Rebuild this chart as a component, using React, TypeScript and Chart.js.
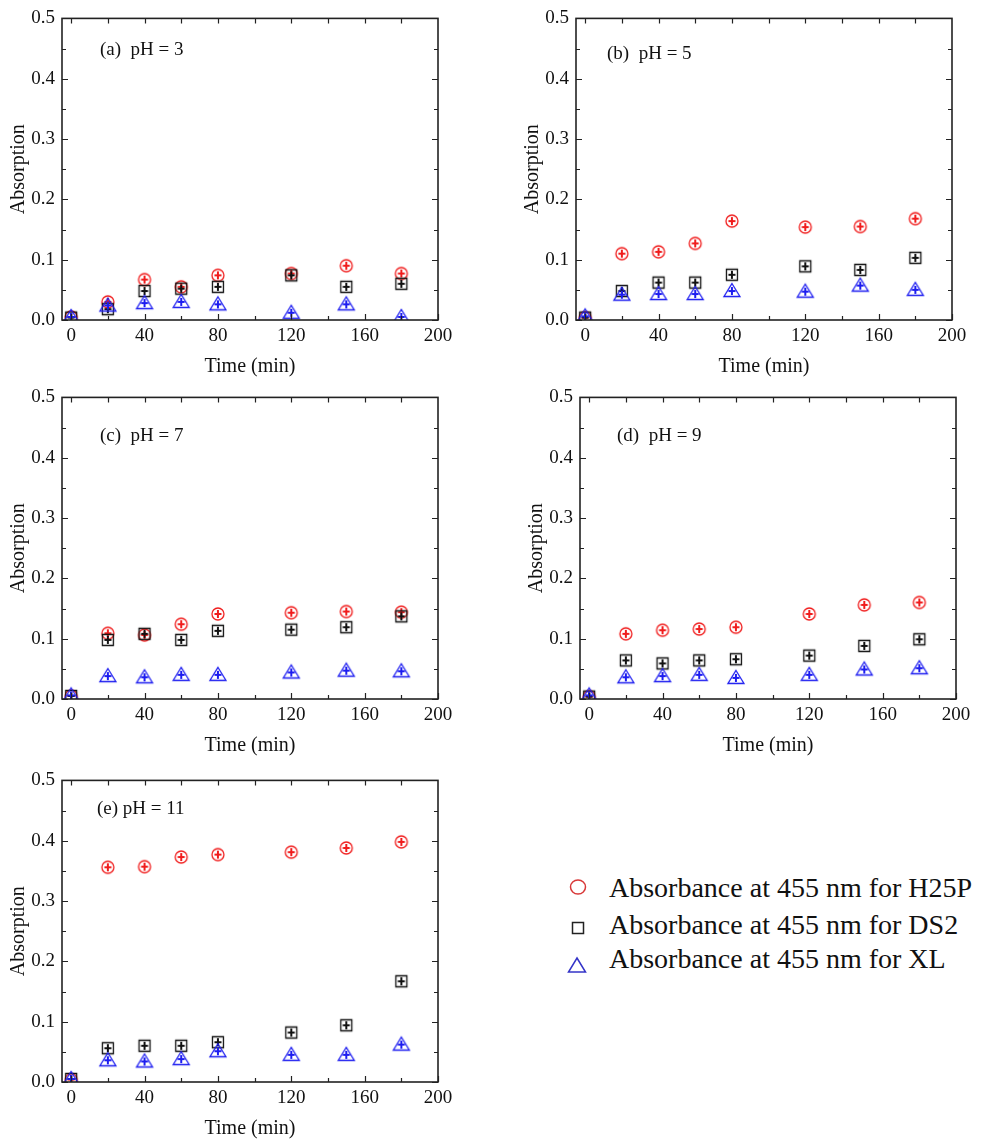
import React, { useEffect, useRef } from "react";
import { Chart, registerables } from "chart.js";
Chart.register(...registerables);

// ---------- data ----------
const times = [0, 20, 40, 60, 80, 120, 150, 180];
const xTickValues = [0, 40, 80, 120, 160, 200];
const xMinorTicks = [20, 60, 100, 140, 180];
const xTopTicks = [0, 20, 40, 60, 80, 100, 120, 140, 160, 180];
const yTickValues = [0, 0.1, 0.2, 0.3, 0.4, 0.5];
const yMinorTicks = [0.05, 0.15, 0.25, 0.35, 0.45];
const seriesNames = [
  "Absorbance at 455 nm for H25P",
  "Absorbance at 455 nm for DS2",
  "Absorbance at 455 nm for XL",
];
const panelLabels = ["(a)  pH = 3", "(b)  pH = 5", "(c)  pH = 7", "(d)  pH = 9", "(e) pH = 11"];

const h25pPH3 = [0.005, 0.030, 0.067, 0.055, 0.074, 0.077, 0.090, 0.077];
const ds2PH3 = [0.004, 0.018, 0.048, 0.052, 0.055, 0.074, 0.055, 0.060];
const xlPH3 = [0.005, 0.024, 0.028, 0.030, 0.026, 0.012, 0.026, 0.005];

const h25pPH5 = [0.004, 0.110, 0.113, 0.127, 0.164, 0.154, 0.155, 0.168];
const ds2PH5 = [0.004, 0.048, 0.062, 0.062, 0.075, 0.089, 0.083, 0.103];
const xlPH5 = [0.006, 0.042, 0.043, 0.043, 0.048, 0.047, 0.057, 0.050];

const h25pPH7 = [0.005, 0.109, 0.106, 0.124, 0.141, 0.143, 0.145, 0.144];
const ds2PH7 = [0.005, 0.098, 0.108, 0.098, 0.113, 0.115, 0.119, 0.137];
const xlPH7 = [0.006, 0.038, 0.036, 0.040, 0.040, 0.044, 0.047, 0.046];

const h25pPH9 = [0.004, 0.108, 0.114, 0.116, 0.119, 0.141, 0.156, 0.160];
const ds2PH9 = [0.004, 0.064, 0.059, 0.064, 0.066, 0.072, 0.088, 0.099];
const xlPH9 = [0.006, 0.036, 0.038, 0.040, 0.035, 0.040, 0.049, 0.051];

const h25pPH11 = [0.004, 0.356, 0.357, 0.373, 0.377, 0.381, 0.388, 0.398];
const ds2PH11 = [0.005, 0.056, 0.060, 0.060, 0.066, 0.082, 0.094, 0.167];
const xlPH11 = [0.005, 0.036, 0.034, 0.038, 0.051, 0.045, 0.045, 0.062];

// ---------- styles / layout ----------
const FONT = "'Liberation Serif', 'Times New Roman', serif";
const RED = "#f01c1c";
const BLACK = "#111111";
const BLUE = "#1c1cf0";

const panels = [
  { label: panelLabels[0], h: h25pPH3, d: ds2PH3, x: xlPH3, areaLeft: 62, areaTop: 17, dx: 38, dy: 32 },
  { label: panelLabels[1], h: h25pPH5, d: ds2PH5, x: xlPH5, areaLeft: 576, areaTop: 17, dx: 31, dy: 36 },
  { label: panelLabels[2], h: h25pPH7, d: ds2PH7, x: xlPH7, areaLeft: 62, areaTop: 396, dx: 38, dy: 39 },
  { label: panelLabels[3], h: h25pPH9, d: ds2PH9, x: xlPH9, areaLeft: 580, areaTop: 396, dx: 37, dy: 39 },
  { label: panelLabels[4], h: h25pPH11, d: ds2PH11, x: xlPH11, areaLeft: 62, areaTop: 779, dx: 35, dy: 29 },
];

const CANVAS_W = 470;
const CANVAS_H = 385;

function makeMarker(kind: "circle" | "square" | "triangle", color: string): HTMLCanvasElement {
  const c = document.createElement("canvas");
  const size = 20;
  c.width = size;
  c.height = size;
  const g = c.getContext("2d")!;
  const cx = size / 2;
  const cy = size / 2;
  g.strokeStyle = color;
  g.lineWidth = 1.3;
  g.beginPath();
  if (kind === "circle") {
    g.arc(cx, cy, 6, 0, Math.PI * 2);
  } else if (kind === "square") {
    g.rect(cx - 5.5, cy - 5.5, 11, 11);
  } else {
    g.moveTo(cx, cy - 7.5);
    g.lineTo(cx + 8, cy + 5.5);
    g.lineTo(cx - 8, cy + 5.5);
    g.closePath();
  }
  g.stroke();
  // error-bar cross
  g.lineWidth = 2;
  g.beginPath();
  g.moveTo(cx - 3.5, cy);
  g.lineTo(cx + 3.5, cy);
  g.moveTo(cx, cy - 4);
  g.lineTo(cx, cy + 4);
  g.stroke();
  return c;
}

const frameTicks = {
  id: "frameTicks",
  afterDraw(chart: any) {
    const { ctx, chartArea: a, scales } = chart;
    const xs = scales.x;
    const ys = scales.y;
    ctx.save();
    ctx.strokeStyle = "#222";
    ctx.lineWidth = 1.2;
    ctx.beginPath();
    xTickValues.forEach((v) => {
      const px = Math.round(xs.getPixelForValue(v)) + 0.5;
      ctx.moveTo(px, a.bottom);
      ctx.lineTo(px, a.bottom - 6);
    });
    xMinorTicks.forEach((v) => {
      const px = Math.round(xs.getPixelForValue(v)) + 0.5;
      ctx.moveTo(px, a.bottom);
      ctx.lineTo(px, a.bottom - 4);
    });
    xTopTicks.forEach((v) => {
      const px = Math.round(xs.getPixelForValue(v)) + 0.5;
      ctx.moveTo(px, a.top);
      ctx.lineTo(px, a.top + 5);
    });
    yTickValues.forEach((v) => {
      const py = Math.round(ys.getPixelForValue(v)) + 0.5;
      ctx.moveTo(a.left, py);
      ctx.lineTo(a.left + 6, py);
      ctx.moveTo(a.right, py);
      ctx.lineTo(a.right - 6, py);
    });
    yMinorTicks.forEach((v) => {
      const py = Math.round(ys.getPixelForValue(v)) + 0.5;
      ctx.moveTo(a.left, py);
      ctx.lineTo(a.left + 4, py);
      ctx.moveTo(a.right, py);
      ctx.lineTo(a.right - 4, py);
    });
    ctx.stroke();
    ctx.lineWidth = 1.6;
    ctx.strokeStyle = "#222";
    ctx.strokeRect(a.left, a.top, a.right - a.left, a.bottom - a.top);
    const opts = chart.options.plugins.panelLabel;
    if (opts && opts.text) {
      ctx.fillStyle = "#111";
      ctx.font = `19px ${FONT}`;
      ctx.textAlign = "left";
      ctx.textBaseline = "middle";
      ctx.fillText(opts.text, a.left + opts.dx, a.top + opts.dy);
    }
    ctx.restore();
  },
};

function Panel(props: { p: (typeof panels)[number] }) {
  const ref = useRef<HTMLCanvasElement | null>(null);
  const { p } = props;
  useEffect(() => {
    if (!ref.current) return;
    const circle = makeMarker("circle", RED);
    const square = makeMarker("square", BLACK);
    const tri = makeMarker("triangle", BLUE);
    const series = [
      { name: seriesNames[0], vals: p.h, style: circle, color: RED, order: 2 },
      { name: seriesNames[1], vals: p.d, style: square, color: BLACK, order: 1 },
      { name: seriesNames[2], vals: p.x, style: tri, color: BLUE, order: 0 },
    ];
    const chart = new Chart(ref.current, {
      type: "scatter",
      data: {
        datasets: series.map((s) => ({
          label: s.name,
          data: times.map((t, i) => ({ x: t, y: s.vals[i] })),
          pointStyle: s.style as any,
          pointRadius: 6,
          borderColor: s.color,
          backgroundColor: s.color,
          order: s.order,
        })),
      },
      options: {
        animation: false,
        responsive: false,
        maintainAspectRatio: false,
        events: [],
        layout: { padding: { top: 17, right: 32, left: 0, bottom: 0 } },
        plugins: {
          legend: { display: false },
          tooltip: { enabled: false },
          panelLabel: { text: p.label, dx: p.dx, dy: p.dy },
        } as any,
        scales: {
          x: {
            type: "linear",
            min: -5,
            max: 200,
            afterBuildTicks: (s: any) => {
              s.ticks = xTickValues.map((v) => ({ value: v }));
            },
            afterFit: (s: any) => {
              s.height = 65;
            },
            grid: { display: false, drawTicks: false },
            border: { display: false },
            ticks: {
              autoSkip: false,
              maxRotation: 0,
              padding: 5,
              color: BLACK,
              font: { family: FONT, size: 19 },
              callback: (v: any) => String(v),
            },
            title: {
              display: true,
              text: "Time (min)",
              color: BLACK,
              font: { family: FONT, size: 20 },
              padding: { top: 0, bottom: 6 },
            },
          },
          y: {
            type: "linear",
            min: 0,
            max: 0.5,
            afterBuildTicks: (s: any) => {
              s.ticks = yTickValues.map((v) => ({ value: v }));
            },
            afterFit: (s: any) => {
              s.width = 62;
            },
            grid: { display: false, drawTicks: false },
            border: { display: false },
            ticks: {
              autoSkip: false,
              padding: 7,
              color: BLACK,
              font: { family: FONT, size: 19 },
              callback: (v: any) => Number(v).toFixed(1),
            },
            title: {
              display: true,
              text: "Absorption",
              color: BLACK,
              font: { family: FONT, size: 20 },
              padding: { top: 6.5, bottom: 0 },
            },
          },
        },
      },
      plugins: [frameTicks],
    });
    return () => chart.destroy();
  }, []);
  return (
    <canvas
      ref={ref}
      width={CANVAS_W}
      height={CANVAS_H}
      style={{
        position: "absolute",
        left: p.areaLeft - 62,
        top: p.areaTop - 17,
        width: CANVAS_W,
        height: CANVAS_H,
      }}
    />
  );
}

function Legend() {
  const rows = [
    { text: seriesNames[0], top: 874 },
    { text: seriesNames[1], top: 911 },
    { text: seriesNames[2], top: 945 },
  ];
  return (
    <>
      <svg
        width={40}
        height={115}
        style={{ position: "absolute", left: 560, top: 870 }}
      >
        <ellipse cx={18} cy={17} rx={7.5} ry={7} fill="none" stroke="#d83838" strokeWidth={1.5} />
        <rect x={12.5} y={52.5} width={11} height={11} fill="none" stroke="#222" strokeWidth={1.5} />
        <polygon points="17,88 25.5,102 8.5,102" fill="none" stroke="#3434c8" strokeWidth={1.5} />
      </svg>
      {rows.map((r) => (
        <div
          key={r.text}
          style={{
            position: "absolute",
            left: 609,
            top: r.top,
            fontFamily: FONT,
            fontSize: 28,
            lineHeight: "28px",
            color: "#111",
            whiteSpace: "nowrap",
          }}
        >
          {r.text}
        </div>
      ))}
    </>
  );
}

export default function App() {
  return (
    <div
      style={{
        position: "absolute",
        left: 0,
        top: 0,
        width: 984,
        height: 1140,
        overflow: "hidden",
        background: "#fff",
      }}
    >
      {panels.map((p) => (
        <Panel key={p.label} p={p} />
      ))}
      <Legend />
    </div>
  );
}
